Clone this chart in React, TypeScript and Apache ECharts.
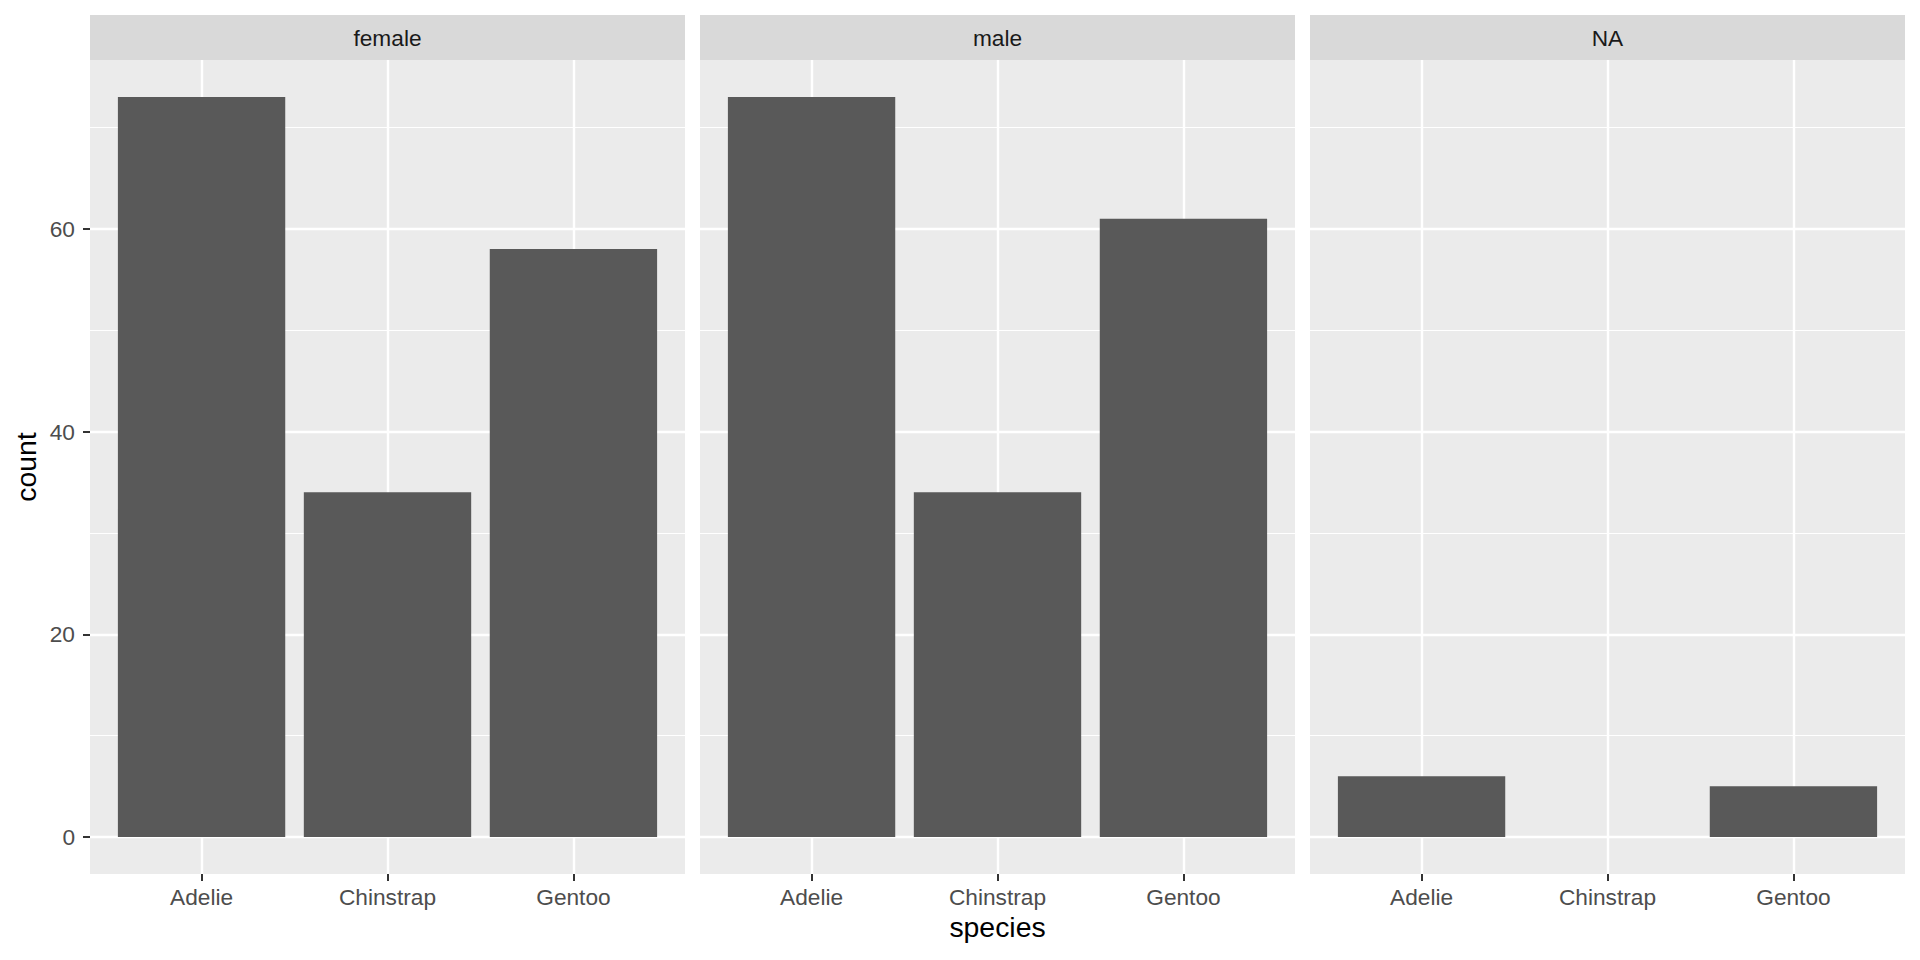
import React, { useEffect, useRef } from "react";
import * as echarts from "echarts";

// ---- data ----
const facets = ["female", "male", "NA"];
const species = ["Adelie", "Chinstrap", "Gentoo"];
const femaleCounts = [73, 34, 58];
const maleCounts = [73, 34, 61];
const naCounts = [6, 0, 5];
const yTicks = [0, 20, 40, 60];
const yMin = -3.65;
const yMax = 76.65;
const xTitle = "species";
const yTitle = "count";

// ---- layout / style ----
const PANEL_LEFT = 90;
const PANEL_W = 595;
const PANEL_GAP = 15;
const PANEL_TOP = 60;
const PANEL_BOTTOM = 874;
const STRIP_TOP = 15;
const FONT = "'Liberation Sans', Arial, Helvetica, sans-serif";
const TICK_FS = 22.7;
const TITLE_FS = 28.4;

export default function App() {
  const ref = useRef<HTMLDivElement>(null);

  useEffect(() => {
    if (!ref.current) return;
    const chart = echarts.init(ref.current, undefined, { renderer: "svg" });
    const seriesData = [femaleCounts, maleCounts, naCounts];
    const unit = PANEL_W / 3.2;
    const panelH = PANEL_BOTTOM - PANEL_TOP;

    const grid: any[] = [];
    const xAxis: any[] = [];
    const yAxis: any[] = [];
    const series: any[] = [];
    const graphic: any[] = [];

    facets.forEach((f, i) => {
      const pLeft = PANEL_LEFT + i * (PANEL_W + PANEL_GAP);
      grid.push({
        left: pLeft,
        top: PANEL_TOP,
        width: PANEL_W,
        height: panelH,
        show: true,
        backgroundColor: "#EBEBEB",
        borderWidth: 0,
        containLabel: false,
      });
      grid.push({
        left: pLeft + 0.6 * unit,
        top: PANEL_TOP,
        width: 2 * unit,
        height: panelH,
        show: false,
        containLabel: false,
      });
      xAxis.push({
        type: "value",
        gridIndex: 2 * i,
        min: 0,
        max: 1,
        show: false,
      });
      xAxis.push({
        type: "category",
        gridIndex: 2 * i + 1,
        data: species,
        boundaryGap: false,
        position: "bottom",
        axisLine: { show: false, onZero: false },
        axisTick: {
          show: true,
          length: 7,
          lineStyle: { color: "#333333", width: 2 },
        },
        axisLabel: {
          show: true,
          interval: 0,
          margin: 11,
          fontSize: TICK_FS,
          color: "#4D4D4D",
          fontFamily: FONT,
        },
        splitLine: {
          show: true,
          interval: 0,
          lineStyle: { color: "#FFFFFF", width: 2.4 },
        },
      });
      yAxis.push({
        type: "value",
        gridIndex: 2 * i,
        min: yMin,
        max: yMax,
        splitNumber: 4,
        axisLine: { show: false },
        axisTick: {
          show: i === 0,
          length: 7,
          customValues: yTicks,
          lineStyle: { color: "#333333", width: 2 },
        },
        axisLabel: {
          show: i === 0,
          customValues: yTicks,
          margin: 15,
          fontSize: TICK_FS,
          color: "#4D4D4D",
          fontFamily: FONT,
        },
        splitLine: {
          show: true,
          lineStyle: { color: "#FFFFFF", width: 2.4 },
        },
        minorTick: { show: false, splitNumber: 2 },
        minorSplitLine: {
          show: true,
          lineStyle: { color: "#FFFFFF", width: 1.2 },
        },
      });
      yAxis.push({
        type: "value",
        gridIndex: 2 * i + 1,
        min: yMin,
        max: yMax,
        show: false,
      });
      series.push({
        type: "bar",
        name: f,
        xAxisIndex: 2 * i + 1,
        yAxisIndex: 2 * i + 1,
        data: seriesData[i],
        barWidth: "90%",
        clip: false,
        itemStyle: { color: "#595959", borderWidth: 0 },
        emphasis: { disabled: true },
        z: 3,
      });
      graphic.push({
        type: "rect",
        shape: { x: pLeft, y: STRIP_TOP, width: PANEL_W, height: PANEL_TOP - STRIP_TOP },
        style: { fill: "#D9D9D9" },
        silent: true,
      });
      graphic.push({
        type: "text",
        x: pLeft + PANEL_W / 2,
        y: (STRIP_TOP + PANEL_TOP) / 2,
        style: {
          text: f,
          fill: "#1A1A1A",
          fontSize: TICK_FS,
          fontFamily: FONT,
          align: "center",
          verticalAlign: "middle",
        },
        silent: true,
      });
    });

    graphic.push({
      type: "text",
      x: PANEL_LEFT + 1.5 * PANEL_W + PANEL_GAP,
      y: 927,
      style: {
        text: xTitle,
        fill: "#000000",
        fontSize: TITLE_FS,
        fontFamily: FONT,
        align: "center",
        verticalAlign: "middle",
      },
      silent: true,
    });
    graphic.push({
      type: "text",
      x: 26,
      y: (PANEL_TOP + PANEL_BOTTOM) / 2,
      rotation: Math.PI / 2,
      style: {
        text: yTitle,
        fill: "#000000",
        fontSize: TITLE_FS,
        fontFamily: FONT,
        align: "center",
        verticalAlign: "middle",
      },
      silent: true,
    });

    chart.setOption({
      animation: false,
      backgroundColor: "#FFFFFF",
      textStyle: { fontFamily: FONT },
      grid,
      xAxis,
      yAxis,
      series,
      graphic,
    });

    return () => chart.dispose();
  }, []);

  return (
    <div
      ref={ref}
      style={{ position: "fixed", left: 0, top: 0, width: 1920, height: 960 }}
    />
  );
}
